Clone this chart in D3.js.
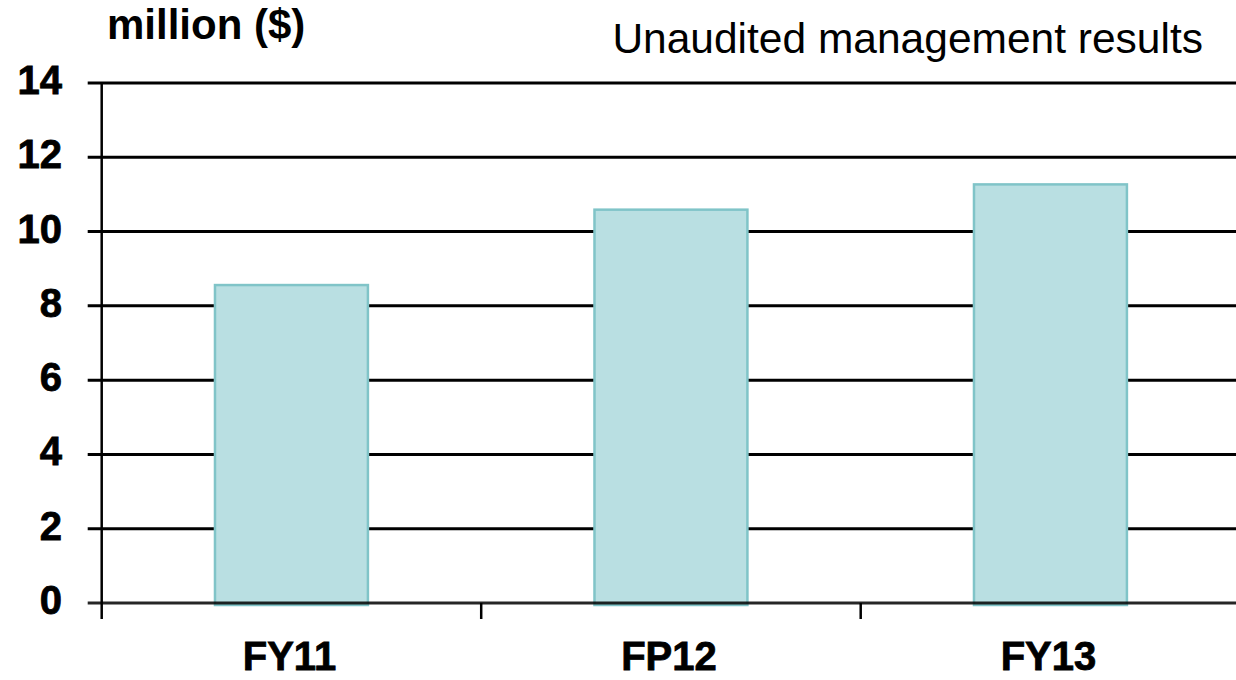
<!DOCTYPE html>
<html>
<head>
<meta charset="utf-8">
<script src="https://cdn.jsdelivr.net/npm/d3@7"></script>
<style>
html,body{margin:0;padding:0;background:#fff;}
svg{display:block;}
</style>
</head>
<body>
<svg id="chart" width="1236" height="680"></svg>
<script>
const categories = ["FY11", "FP12", "FY13"];
const values = [8.56, 10.59, 11.27];
const yTicks = [0, 2, 4, 6, 8, 10, 12, 14];
const unitLabel = "million ($)";
const noteLabel = "Unaudited management results";

(function () {
const svg = d3.select("#chart");
const plotLeft = 101.7, plotRight = 1240.2, plotTop = 83, plotBottom = 603;

const x = d3.scaleBand().domain(categories).range([plotLeft, plotRight]).padding(0);
const y = d3.scaleLinear().domain([0, 14]).range([plotBottom, plotTop]);
const barW = x.bandwidth() * 0.403;

// gridlines
svg.append("g").selectAll("line").data(yTicks.filter(d => d > 0)).join("line")
  .attr("x1", plotLeft - 14).attr("x2", plotRight)
  .attr("y1", d => y(d)).attr("y2", d => y(d))
  .attr("stroke", "#000").attr("stroke-width", 3);

// bars
svg.append("g").selectAll("rect").data(values).join("rect")
  .attr("x", (d, i) => x(categories[i]) + (x.bandwidth() - barW) / 2)
  .attr("y", d => y(d))
  .attr("width", barW)
  .attr("height", d => y(0) - y(d) + 2)
  .attr("fill", "#b9dfe2")
  .attr("stroke", "#80c4c8")
  .attr("stroke-width", 2.5);

// y axis line
svg.append("line")
  .attr("x1", plotLeft).attr("x2", plotLeft).attr("y1", plotTop).attr("y2", plotBottom + 16)
  .attr("stroke", "#000").attr("stroke-width", 2.5);

// x axis line (on top of bars)
svg.append("line")
  .attr("x1", plotLeft - 14).attr("x2", plotRight).attr("y1", plotBottom).attr("y2", plotBottom)
  .attr("stroke", "#000").attr("stroke-opacity", 0.85).attr("stroke-width", 3);

// x ticks at band boundaries
const boundaries = categories.map(c => x(c)).concat([x(categories[categories.length - 1]) + x.bandwidth()]);
svg.append("g").selectAll("line").data(boundaries.slice(1)).join("line")
  .attr("x1", d => d).attr("x2", d => d).attr("y1", plotBottom).attr("y2", plotBottom + 16)
  .attr("stroke", "#000").attr("stroke-width", 2.5);

// y tick labels
svg.append("g").selectAll("text").data(yTicks).join("text")
  .attr("x", 62).attr("y", d => y(d) - 3)
  .attr("dy", "0.35em")
  .attr("text-anchor", "end")
  .attr("font-family", "Liberation Sans, Arial, sans-serif")
  .attr("font-weight", "bold")
  .attr("font-size", 40)
  .attr("stroke", "#000").attr("stroke-width", 0.8)
  .text(d => d);

// x labels
svg.append("g").selectAll("text").data(categories).join("text")
  .attr("x", d => x(d) + x.bandwidth() / 2 - 2)
  .attr("y", 670)
  .attr("text-anchor", "middle")
  .attr("font-family", "Liberation Sans, Arial, sans-serif")
  .attr("font-weight", "bold")
  .attr("font-size", 40)
  .attr("stroke", "#000").attr("stroke-width", 0.8)
  .text(d => d);

// unit label
svg.append("text")
  .attr("x", 107).attr("y", 39)
  .attr("font-family", "Liberation Sans, Arial, sans-serif")
  .attr("font-weight", "bold")
  .attr("font-size", 42)
  .text(unitLabel);

// note
svg.append("text")
  .attr("x", 1203).attr("y", 53)
  .attr("text-anchor", "end")
  .attr("font-family", "Liberation Sans, Arial, sans-serif")
  .attr("font-size", 42.5)
  .text(noteLabel);
})();
</script>
</body>
</html>
